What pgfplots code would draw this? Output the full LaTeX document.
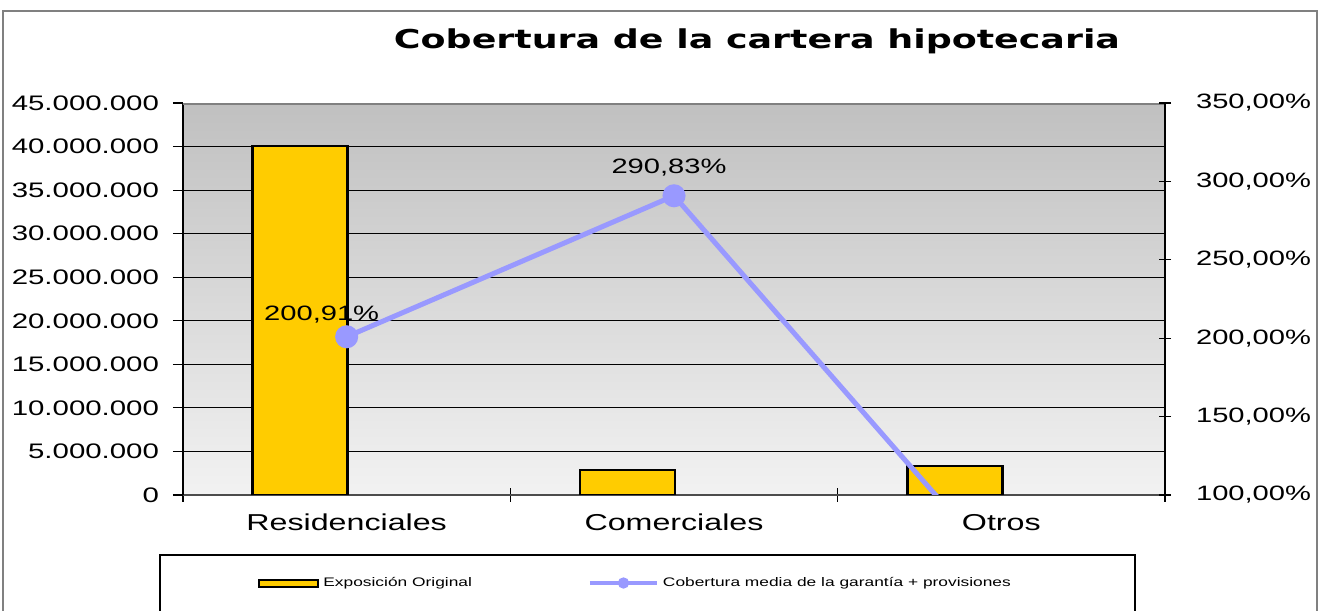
\documentclass[border=0pt]{standalone}
\usepackage{fontspec}
\setmainfont{Liberation Sans}[FakeStretch=1.4]
\newfontfamily\titlefont{DejaVu Sans}[FakeStretch=1.4]
\usepackage{pgfplots}
\pgfplotsset{compat=1.18}
\usepackage{pgfplotstable}
\definecolor{baryellow}{HTML}{FFCC00}
\definecolor{linecol}{HTML}{9999FF}
\definecolor{bgtop}{HTML}{C0C0C0}
\definecolor{bgbot}{HTML}{F2F2F2}

\pgfplotstableread{
x y
0 40060000
1 2900000
2 3360000
}\expo

\pgfplotstableread{
x y dx dy lbl
0 200.91 -12.5 11 {200,91\%}
1 290.83 -2.5 14 {290,83\%}
2 52 0 0 {}
}\cov

\begin{document}
\begin{tikzpicture}
\useasboundingbox (0,0) rectangle (660.5pt,305pt);
\fill[white] (0,0) rectangle (660.5pt,305pt);
\draw[gray, line width=0.6pt] (1.5pt,-5pt) -- (1.5pt,299.5pt) -- (658.5pt,299.5pt) -- (658.5pt,-5pt);
\node[font=\titlefont\bfseries\fontsize{13}{15}\selectfont] at (378.5pt,284.5pt) {Cobertura de la cartera hipotecaria};
\draw[black, line width=0.6pt] (80pt,-5pt) rectangle (567.5pt,27.5pt);

\begin{axis}[
  at={(91.5pt,57.5pt)}, anchor=south west,
  scale only axis, width=491pt, height=196pt,
  xmin=-0.5, xmax=2.5, ymin=0, ymax=45000000,
  scaled y ticks=false,
  axis x line*=bottom, axis y line*=left,
  x axis line style={draw=gray!60!black, line width=1pt, -},
  y axis line style={draw=black, line width=0.6pt, -},
  xtick={0,1,2},
  xticklabels={Residenciales,Comerciales,Otros},
  xticklabel style={font=\fontsize{11.5}{13}\selectfont, yshift=-3.5pt},
  minor xtick={-0.5,0.5,1.5,2.5},
  x tick style={black, line width=0.6pt},
  xtick align=center, 
  xmajorgrids=false, xminorgrids=false,
  ytick={0,5000000,10000000,15000000,20000000,25000000,30000000,35000000,40000000,45000000},
  yticklabels={0,5.000.000,10.000.000,15.000.000,20.000.000,25.000.000,30.000.000,35.000.000,40.000.000,45.000.000},
  yticklabel style={font=\fontsize{10.5}{12}\selectfont, xshift=-3.5pt},
  y tick style={black, line width=0.6pt},
  ytick align=outside,
  major x tick style={draw=none},
  major tick length=5pt, minor tick length=7pt,
  ymajorgrids, major grid style={black, line width=0.5pt},
  axis background/.style={top color=bgtop, bottom color=bgbot},
]
\addplot[ybar, bar width=47.5pt, bar shift=-23.25pt, fill=baryellow, draw=black, line width=1.2pt] table {\expo};
\draw[gray, line width=1.5pt] (rel axis cs:0,1) -- (rel axis cs:1,1);
\end{axis}

\begin{axis}[
  at={(91.5pt,57.5pt)}, anchor=south west,
  scale only axis, width=491pt, height=196pt,
  xmin=-0.5, xmax=2.5, ymin=100, ymax=350,
  axis x line=none, axis y line*=right,
  y axis line style={draw=black, line width=0.6pt, -},
  ytick={100,150,200,250,300,350},
  yticklabels={{100,00\%},{150,00\%},{200,00\%},{250,00\%},{300,00\%},{350,00\%}},
  yticklabel style={font=\fontsize{10.4}{12}\selectfont, xshift=9pt},
  y tick style={black, line width=0.6pt},
  ytick align=center, major tick length=6pt,
  legend style={draw=none, fill=none, inner sep=0pt,
    at={(0.07637,-0.2245)}, anchor=west,
    font=\fontsize{6.2}{7}\selectfont,
    /tikz/every even column/.append style={column sep=56pt}},
  legend columns=2,
]
\addlegendimage{legend image code/.code={\draw[fill=baryellow,draw=black,line width=1pt](0pt,-1.75pt) rectangle (29.5pt,1.75pt);}}
\addlegendentry{Exposición Original}
\addplot[linecol, line width=2.5pt, mark=*, mark size=4.5pt,
  mark options={draw=none, fill=linecol},
  legend image code/.code={\draw[linecol,line width=2pt](0pt,0pt)--(33.5pt,0pt); \fill[linecol](16.75pt,0pt) circle (1.5pt);},
  nodes near coords, point meta=explicit symbolic,
  visualization depends on={\thisrow{dx}\as\dx},
  visualization depends on={\thisrow{dy}\as\dy},
  every node near coord/.append style={font=\fontsize{10.4}{12}\selectfont, text=black, anchor=center, xshift=\dx pt, yshift=\dy pt},
] table[x=x, y=y, meta=lbl] {\cov};
\addlegendentry{Cobertura media de la garantía + provisiones}
\end{axis}
\end{tikzpicture}
\end{document}
